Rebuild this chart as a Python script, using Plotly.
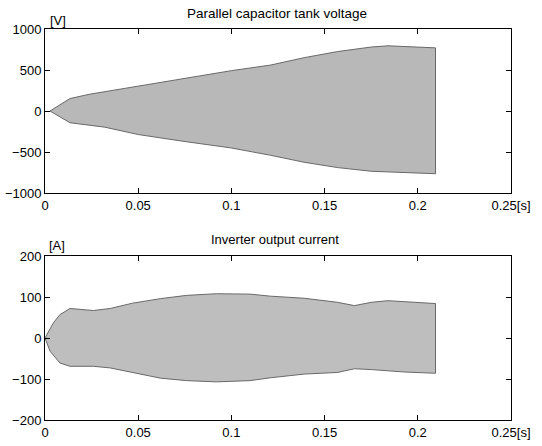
import plotly.graph_objects as go

# ---- data ----
v_t_up = [0.0027, 0.0134, 0.024, 0.035, 0.05, 0.074, 0.1, 0.121, 0.139, 0.157, 0.175, 0.184, 0.193, 0.2095]
v_up = [0, 152, 205, 246, 300, 398, 492, 560, 650, 725, 780, 795, 785, 770]
v_t_lo = [0.0027, 0.0134, 0.032, 0.05, 0.074, 0.1, 0.121, 0.139, 0.157, 0.175, 0.193, 0.2095]
v_lo = [0, -143, -197, -287, -369, -451, -540, -625, -690, -735, -755, -765]

i_t_up = [0.0, 0.0018, 0.0045, 0.008, 0.0134, 0.026, 0.035, 0.047, 0.062, 0.076, 0.092, 0.11, 0.121, 0.139, 0.157, 0.166, 0.175, 0.184, 0.2095]
i_up = [0, 16, 37, 57, 72, 67, 72, 85, 96, 104, 108, 107, 102, 97, 87, 79, 87, 91, 84]
i_t_lo = [0.0, 0.0027, 0.008, 0.0134, 0.026, 0.035, 0.047, 0.062, 0.076, 0.092, 0.11, 0.121, 0.139, 0.157, 0.166, 0.175, 0.193, 0.2095]
i_lo = [0, -32, -61, -69, -69, -73, -85, -98, -104, -107, -104, -97, -88, -84, -75, -77, -83, -86]

x_ticks = [0, 0.05, 0.1, 0.15, 0.2, 0.25]
x_labels = ["0", "0.05", "0.1", "0.15", "0.2", "0.25[s]"]
v_ticks = [-1000, -500, 0, 500, 1000]
i_ticks = [-200, -100, 0, 100, 200]

FONT = "Liberation Sans"

W, H = 542, 446


def px(x):
    return x / W


def py(y):
    return 1 - y / H


fig = go.Figure()
fig.add_trace(go.Scatter(
    x=v_t_up + v_t_lo[::-1], y=v_up + v_lo[::-1],
    fill="toself", fillcolor="rgb(184,184,184)", mode="lines",
    line=dict(color="rgb(105,105,105)", width=1), xaxis="x", yaxis="y", showlegend=False))
fig.add_trace(go.Scatter(
    x=i_t_up + i_t_lo[::-1], y=i_up + i_lo[::-1],
    fill="toself", fillcolor="rgb(190,190,190)", mode="lines",
    line=dict(color="rgb(105,105,105)", width=1), xaxis="x2", yaxis="y2", showlegend=False))

xd = [px(45), px(511)]
ax_common = dict(showline=True, linecolor="black", linewidth=1, mirror="allticks",
                 ticks="inside", ticklen=5, tickcolor="black", showgrid=False,
                 zeroline=False, automargin=False,
                 tickfont=dict(family=FONT, size=13, color="black"))

fig.update_layout(
    width=W, height=H, margin=dict(l=0, r=0, t=0, b=0, pad=0, autoexpand=False),
    paper_bgcolor="white", plot_bgcolor="white", showlegend=False,
    xaxis=dict(domain=xd, range=[0, 0.25], tickvals=x_ticks, ticktext=x_labels,
               anchor="y", **ax_common),
    yaxis=dict(domain=[py(193), py(29)], range=[-1000, 1000], tickvals=v_ticks,
               anchor="x", **ax_common),
    xaxis2=dict(domain=xd, range=[0, 0.25], tickvals=x_ticks, ticktext=x_labels,
                anchor="y2", **ax_common),
    yaxis2=dict(domain=[py(420), py(256)], range=[-200, 200], tickvals=i_ticks,
                anchor="x2", **ax_common),
    annotations=[
        dict(text="Parallel capacitor tank voltage", x=px(277), y=py(14),
             xref="paper", yref="paper", showarrow=False,
             xanchor="center", yanchor="middle",
             font=dict(family=FONT, size=13.5, color="black")),
        dict(text="Inverter output current", x=px(275), y=py(239),
             xref="paper", yref="paper", showarrow=False,
             xanchor="center", yanchor="middle",
             font=dict(family=FONT, size=13, color="black")),
        dict(text="[V]", x=px(48), y=py(20), xref="paper", yref="paper",
             xanchor="left", yanchor="middle", showarrow=False,
             font=dict(family=FONT, size=13, color="black")),
        dict(text="[A]", x=px(47), y=py(245), xref="paper", yref="paper",
             xanchor="left", yanchor="middle", showarrow=False,
             font=dict(family=FONT, size=13, color="black")),
    ],
)

fig.write_html("out.html", config={"displayModeBar": False},
               post_script="document.body.style.margin='0px';document.body.style.overflow='hidden';")
